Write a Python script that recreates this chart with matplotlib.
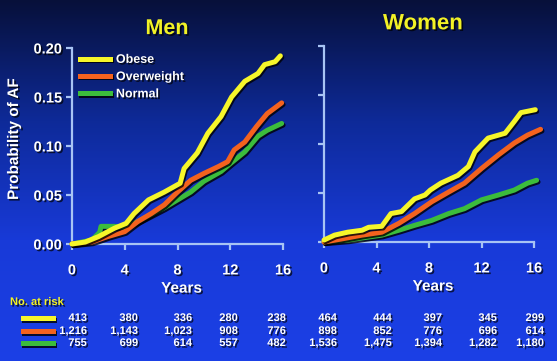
import numpy as np
import matplotlib
matplotlib.use("Agg")
import matplotlib.pyplot as plt
import matplotlib.patheffects as pe
from matplotlib.colors import LinearSegmentedColormap
from matplotlib.lines import Line2D

plt.rcParams['font.family'] = ['Liberation Sans', 'DejaVu Sans']
plt.rcParams['font.weight'] = 'bold'

# ---- data ----
years_ticks = [0, 4, 8, 12, 16]
group_names = ['Obese', 'Overweight', 'Normal']
group_colors = ['#f6f62a', '#f4621e', '#3cbc3c']

men_obese_t = [0, 1.0, 2.0, 3.2, 4.1, 4.7, 5.8, 7.0, 8.2, 8.5, 9.5, 10.3, 11.3, 12.1, 13.1, 14.1, 14.6, 15.4, 15.8]
men_obese_p = [0, 0.002, 0.0075, 0.016, 0.021, 0.031, 0.045, 0.053, 0.062, 0.077, 0.093, 0.113, 0.130, 0.150, 0.166, 0.174, 0.183, 0.186, 0.192]
men_over_t = [0, 1.5, 2.7, 4.0, 5.0, 6.0, 7.0, 8.0, 9.0, 10.0, 11.1, 11.8, 12.3, 13.1, 14.0, 14.8, 15.9]
men_over_p = [0, 0.002, 0.0075, 0.0126, 0.023, 0.031, 0.040, 0.053, 0.065, 0.072, 0.079, 0.084, 0.096, 0.104, 0.120, 0.133, 0.144]
men_norm_t = [0, 1.5, 2.1, 2.2, 3.2, 4.0, 5.0, 6.0, 7.0, 8.0, 9.0, 10.0, 11.3, 12.0, 13.1, 14.1, 14.8, 15.9]
men_norm_p = [0, 0.004, 0.012, 0.018, 0.018, 0.017, 0.023, 0.030, 0.037, 0.045, 0.053, 0.064, 0.074, 0.082, 0.094, 0.110, 0.116, 0.123]

women_obese_t = [0, 0.8, 1.8, 2.9, 3.4, 4.4, 5.1, 5.9, 6.9, 7.7, 8.1, 8.9, 10.2, 11.0, 11.5, 12.5, 13.8, 14.5, 15.0, 16.1]
women_obese_p = [0.002, 0.007, 0.010, 0.012, 0.015, 0.016, 0.029, 0.031, 0.044, 0.048, 0.053, 0.060, 0.068, 0.077, 0.092, 0.106, 0.111, 0.123, 0.132, 0.135]
women_over_t = [0, 1.3, 2.9, 4.4, 5.7, 6.9, 8.2, 9.5, 10.7, 12.0, 13.3, 14.5, 15.5, 16.5]
women_over_p = [0, 0.003, 0.007, 0.010, 0.019, 0.029, 0.041, 0.051, 0.060, 0.075, 0.089, 0.101, 0.109, 0.115]
women_norm_t = [0, 1.8, 4.4, 5.7, 6.9, 8.2, 9.5, 10.7, 12.0, 13.3, 14.5, 15.5, 16.2]
women_norm_p = [0, 0.002, 0.007, 0.012, 0.017, 0.022, 0.029, 0.034, 0.043, 0.048, 0.053, 0.060, 0.063]

men_at_risk = [
    ['413', '380', '336', '280', '238'],
    ['1,216', '1,143', '1,023', '908', '776'],
    ['755', '699', '614', '557', '482'],
]
women_at_risk = [
    ['464', '444', '397', '345', '299'],
    ['898', '852', '776', '696', '614'],
    ['1,536', '1,475', '1,394', '1,282', '1,180'],
]

W, H = 557, 361
fig = plt.figure(figsize=(W / 100, H / 100), dpi=100)

# gradient background
bg = fig.add_axes([0, 0, 1, 1], zorder=-10)
cmap = LinearSegmentedColormap.from_list('bg', ['#07103a', '#0e2a98', '#183ad8', '#1c40e6'])
bg.imshow(np.linspace(0, 1, 256).reshape(-1, 1), aspect='auto', cmap=cmap,
          extent=[0, 1, 0, 1])
bg.axis('off')

shadow_txt = [pe.withSimplePatchShadow(offset=(1.2, -1.2), shadow_rgbFace='black', alpha=0.7)]
shadow_line = [pe.SimpleLineShadow(offset=(1, -1.2), shadow_color='black', alpha=0.8), pe.Normal()]
spine_col = '#a8c4f4'
LW = 3.6


def fx(px):
    return px / W


def fy(py):
    return 1 - py / H


def setup_axes(ax, ylabels):
    ax.set_facecolor('none')
    ax.set_xlim(0, 16.6)
    ax.set_ylim(0, 0.2)
    for s in ['top', 'right']:
        ax.spines[s].set_visible(False)
    for s in ['left', 'bottom']:
        ax.spines[s].set_color(spine_col)
        ax.spines[s].set_linewidth(1.6)
    ax.spines['bottom'].set_bounds(0, 16)
    ax.set_xticks(years_ticks)
    ax.set_yticks([0, 0.05, 0.10, 0.15, 0.20])
    ax.tick_params(colors=spine_col, width=1.6, length=4)
    ax.tick_params(axis='x', pad=10, labelsize=10.5, labelcolor='white')
    ax.tick_params(axis='y', pad=3, labelsize=10.5, labelcolor='white')
    if ylabels:
        ax.set_yticklabels(['0.00', '0.05', '0.10', '0.15', '0.20'])
    else:
        ax.set_yticklabels([])
    for lab in ax.get_xticklabels() + ax.get_yticklabels():
        lab.set_fontweight('bold')
        lab.set_path_effects(shadow_txt)
    ax.set_xlabel('Years', fontsize=11, color='white', fontweight='bold',
                  labelpad=3, path_effects=shadow_txt)


ax_m = fig.add_axes([fx(72), fy(244), 211 / W * (16.6 / 16), 196 / H])
ax_w = fig.add_axes([fx(324), fy(242), 210 / W * (16.6 / 16), 196 / H])
setup_axes(ax_m, True)
setup_axes(ax_w, False)

men_series = [(men_obese_t, men_obese_p), (men_over_t, men_over_p), (men_norm_t, men_norm_p)]
women_series = [(women_obese_t, women_obese_p), (women_over_t, women_over_p), (women_norm_t, women_norm_p)]

for ax, series in [(ax_m, men_series), (ax_w, women_series)]:
    for i in [2, 1, 0]:
        t, p = series[i]
        ax.plot(t, p, color=group_colors[i], lw=LW, label=group_names[i],
                solid_capstyle='round', clip_on=False, zorder=3 + (2 - i),
                path_effects=shadow_line)

handles = [Line2D([0], [0], color=c, lw=LW, path_effects=shadow_line) for c in group_colors]
leg = ax_m.legend(handles, group_names, loc='upper left', bbox_to_anchor=(0.035, 0.97),
                  frameon=False, fontsize=9, handlelength=2.4, handletextpad=0.5,
                  labelspacing=0.42, borderpad=0, borderaxespad=0)
for txt in leg.get_texts():
    txt.set_color('white')
    txt.set_fontweight('bold')
    txt.set_path_effects(shadow_txt)

ax_m.set_title('Men', fontsize=15.5, color='#f2f226', fontweight='bold', pad=10,
               path_effects=shadow_txt)
ax_w.set_title('Women', fontsize=16, color='#f2f226', fontweight='bold', pad=12,
               path_effects=shadow_txt)
ax_m.title.set_position((0.434, 1.0))
ax_w.title.set_position((0.454, 1.0))

fig.text(fx(14), fy(139), 'Probability of AF', rotation=90, ha='center', va='center',
         fontsize=11, color='white', fontweight='bold', path_effects=shadow_txt)

# number at risk table
fig.text(fx(10), fy(302), 'No. at risk', ha='left', va='center', fontsize=8,
         color='#f2f226', fontweight='bold', path_effects=shadow_txt)
row_y = [318, 331, 343]
for i, c in enumerate(group_colors):
    fig.add_artist(Line2D([fx(23), fx(53)], [fy(row_y[i]), fy(row_y[i])], color=c, lw=LW,
                          transform=fig.transFigure, path_effects=shadow_line))
men_cols = [87, 138, 192, 238, 286]
women_cols = [337, 392, 442, 497, 544]
for rows, cols in [(men_at_risk, men_cols), (women_at_risk, women_cols)]:
    for i, row in enumerate(rows):
        for j, val in enumerate(row):
            fig.text(fx(cols[j]), fy(row_y[i]), val, ha='right', va='center', fontsize=8,
                     color='white', fontweight='bold', path_effects=shadow_txt)

fig.savefig('out.png', dpi=100)
